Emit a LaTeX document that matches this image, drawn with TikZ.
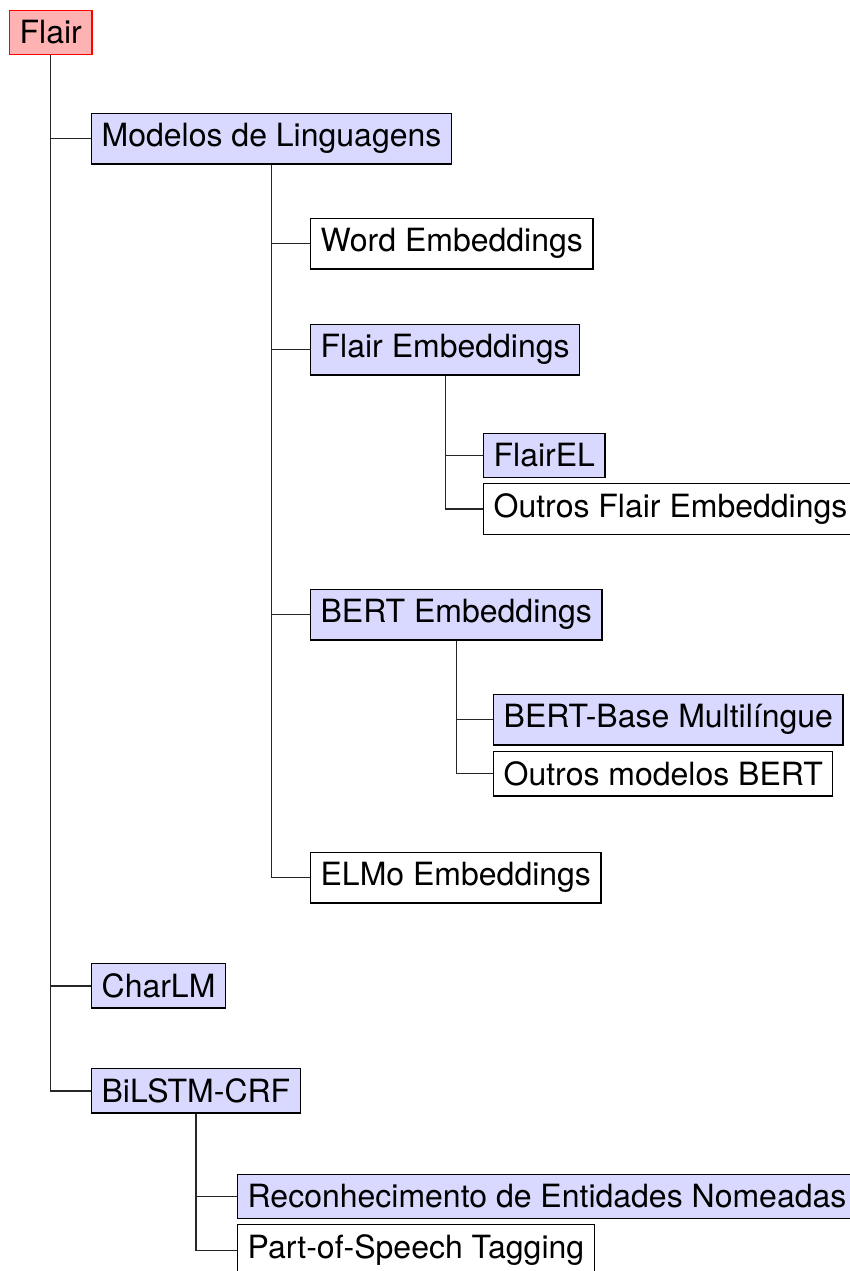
\documentclass[tikz,border=0pt]{standalone}
\usepackage{fontspec}
\setmainfont{TeX Gyre Heros}
\begin{document}
\begin{tikzpicture}[
  x=1pt, y=-1pt,
  every node/.style={font=\fontsize{32}{36}\selectfont, anchor=north west, inner xsep=10pt, inner ysep=10pt, line width=1.3pt},
  bluebox/.style={draw=black, fill=blue!15},
  whitebox/.style={draw=black, fill=white},
  rootbox/.style={draw=red, fill=red!30},
  edge/.style={draw=black!85, line width=1.2pt}
]
\useasboundingbox (0,0) rectangle (850,1271);
\node[rootbox] (flair) at (9,10) {Flair};
\node[bluebox] (modelos) at (91,113) {Modelos de Linguagens};
\node[whitebox] (word) at (310,218) {Word Embeddings};
\node[bluebox] (flairemb) at (310,324) {Flair Embeddings};
\node[bluebox] (flairel) at (483,433) {FlairEL};
\node[whitebox] (outflair) at (483,483) {Outros Flair Embeddings};
\node[bluebox] (bert) at (310,589) {BERT Embeddings};
\node[bluebox] (bertbase) at (493,694) {BERT-Base Multilíngue};
\node[whitebox] (outbert) at (493,751) {Outros modelos BERT};
\node[whitebox] (elmo) at (310,852) {ELMo Embeddings};
\node[bluebox] (charlm) at (91,963) {CharLM};
\node[bluebox] (bilstm) at (91,1068) {BiLSTM-CRF};
\node[bluebox] (ner) at (237,1174) {Reconhecimento de Entidades Nomeadas};
\node[whitebox] (pos) at (237,1224) {Part-of-Speech Tagging};

\draw[edge] (flair.south) |- (modelos.west);
\draw[edge] (flair.south) |- (charlm.west);
\draw[edge] (flair.south) |- (bilstm.west);
\draw[edge] (modelos.south) |- (word.west);
\draw[edge] (modelos.south) |- (flairemb.west);
\draw[edge] (modelos.south) |- (bert.west);
\draw[edge] (modelos.south) |- (elmo.west);
\draw[edge] (flairemb.south) |- (flairel.west);
\draw[edge] (flairemb.south) |- (outflair.west);
\draw[edge] (bert.south) |- (bertbase.west);
\draw[edge] (bert.south) |- (outbert.west);
\draw[edge] (bilstm.south) |- (ner.west);
\draw[edge] (bilstm.south) |- (pos.west);
\end{tikzpicture}
\end{document}
